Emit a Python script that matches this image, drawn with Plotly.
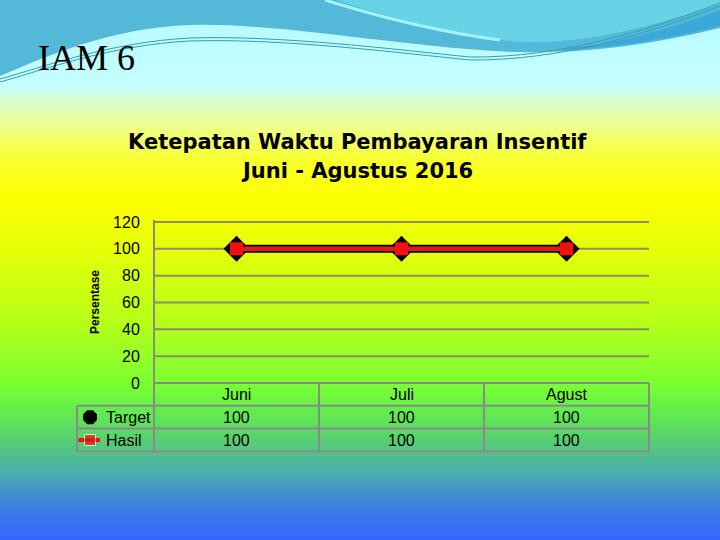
import plotly.graph_objects as go

# ── Data ───────────────────────────────────────────────
months = ["Juni", "Juli", "Agust"]
target = [100, 100, 100]
hasil = [100, 100, 100]
y_ticks = [0, 20, 40, 60, 80, 100, 120]
series_names = ["Target", "Hasil"]

W, H = 720, 540


def px_x(p):
    return p / W


def px_y(p):
    return 1 - p / H


def hex_rgb(h):
    h = h.lstrip("#")
    return tuple(int(h[i:i + 2], 16) for i in (0, 2, 4))


def mix(c1, c2, t):
    a, b = hex_rgb(c1), hex_rgb(c2)
    return "rgb({},{},{})".format(*[round(a[i] + (b[i] - a[i]) * t) for i in range(3)])


# ── Background gradient (slide style) ──────────────────
bg_stops = [(0, "#b4f8ff"), (85, "#c4ffff"), (105, "#dcffc8"), (125, "#eeff90"),
            (160, "#f8ff30"), (195, "#ffff00"), (250, "#e6ff08"), (320, "#b8ff18"),
            (385, "#7aff30"), (410, "#64ee4c"), (440, "#58d070"), (470, "#4cb0a8"),
            (500, "#4088d8"), (540, "#3366ff")]

shapes = []
step = 3
for top in range(0, H, step):
    mid = top + step / 2
    for (p0, c0), (p1, c1) in zip(bg_stops[:-1], bg_stops[1:]):
        if p0 <= mid <= p1:
            col = mix(c0, c1, (mid - p0) / (p1 - p0))
            break
    shapes.append(dict(type="rect", xref="paper", yref="paper", layer="below",
                       x0=0, x1=1, y0=px_y(top + step + 1), y1=px_y(top - 0.5),
                       fillcolor=col, line=dict(width=0)))


def wave(points):
    # points in pixels -> svg path in paper units
    out = []
    for cmd, pts in points:
        out.append(cmd + " " + " ".join(f"{px_x(x):.4f},{px_y(y):.4f}" for x, y in pts))
    return " ".join(out)


def deco(path, fill=None, line_col=None, lw=0):
    d = dict(type="path", xref="paper", yref="paper", layer="below", path=path,
             line=dict(width=lw, color=line_col or "rgba(0,0,0,0)"))
    if fill:
        d["fillcolor"] = fill
    shapes.append(d)


# top wave of the slide template
deco(wave([("M", [(0, -2)]), ("L", [(0, 76)]),
           ("C", [(50, 55), (110, 28), (190, 25)]),
           ("C", [(280, 22), (420, 50), (520, 52)]),
           ("C", [(600, 54), (670, 40), (720, 28)]),
           ("L", [(720, -2)]), ("Z", [])]), fill="#54b9d8")
deco(wave([("M", [(560, 49)]), ("C", [(620, 44), (680, 26), (720, 10)]),
           ("L", [(720, 26)]), ("C", [(680, 36), (620, 48), (560, 50)]), ("Z", [])]),
     fill="#3aa8d8")
deco(wave([("M", [(330, -2)]), ("C", [(380, 15), (450, 35), (520, 42)]),
           ("C", [(600, 44), (670, 20), (720, 4)]),
           ("L", [(720, -2)]), ("Z", [])]), fill="#66d4e6")
deco(wave([("M", [(325, 0)]), ("C", [(380, 17), (440, 32), (500, 40)])]),
     line_col="#a4f2f8", lw=3)
for off in (0, 3):
    deco(wave([("M", [(0, 79 + off)]), ("C", [(40, 68 + off), (110, 42 + off), (190, 38 + off)]),
               ("C", [(280, 35 + off), (400, 50 + off), (470, 57 + off)]),
               ("C", [(560, 58 + off), (650, 30 + off), (720, 3 + off)])]),
         line_col="#3a9cb4", lw=1)

# ── Gridlines ──────────────────────────────────────────
grid_col = "#8c8c6a"
tab_col = "#8a8a8a"
x_lo, x_hi = -0.5, len(months) - 0.5
for v in y_ticks:
    shapes.append(dict(type="line", xref="x", yref="y", layer="below",
                       x0=x_lo, x1=x_hi, y0=v, y1=v, line=dict(color=grid_col, width=2)))

# ── Data table lines ───────────────────────────────────
rows_y = [0, -17, -34, -51]
x_left = -0.5 - 77 / 165
for i, ry in enumerate(rows_y):
    shapes.append(dict(type="line", xref="x", yref="y", x0=x_lo if i == 0 else x_left,
                       x1=x_hi, y0=ry, y1=ry, line=dict(color=tab_col, width=2)))
for k in range(len(months) + 1):
    shapes.append(dict(type="line", xref="x", yref="y", x0=x_lo + k, x1=x_lo + k,
                       y0=rows_y[0], y1=rows_y[-1], line=dict(color=tab_col, width=2)))
shapes.append(dict(type="line", xref="x", yref="y", x0=x_left, x1=x_left,
                   y0=rows_y[1], y1=rows_y[-1], line=dict(color=tab_col, width=2)))

xs = list(range(len(months)))

fig = go.Figure()
fig.add_trace(go.Scatter(x=xs, y=target, name="Target", mode="lines+markers",
                         line=dict(color="black", width=8),
                         marker=dict(symbol="diamond", size=20, color="black"),
                         hoverinfo="skip", showlegend=False))
fig.add_trace(go.Scatter(x=xs, y=hasil, name="Hasil", mode="lines+markers",
                         line=dict(color="#e41818", width=4.5),
                         marker=dict(symbol="square", size=13, color="#f01010"),
                         hoverinfo="skip", showlegend=False))

# legend keys inside the table
x_key = -0.5 - 64 / 165
row_mid = [(a + b) / 2 for a, b in zip(rows_y[:-1], rows_y[1:])]
fig.add_trace(go.Scatter(x=[x_key], y=[row_mid[1]], mode="markers",
                         marker=dict(symbol="octagon", size=15, color="black"),
                         hoverinfo="skip", showlegend=False))
fig.add_trace(go.Scatter(x=[x_key - 0.07, x_key, x_key + 0.06], y=[row_mid[2]] * 3,
                         mode="lines+markers", line=dict(color="#f01010", width=4),
                         marker=dict(symbol="square", size=[0, 11, 0], color="#f01010"),
                         hoverinfo="skip", showlegend=False))

tfont = dict(family="Liberation Sans", size=16, color="black")
ann = []
for i, m in enumerate(months):
    ann.append(dict(x=i, y=row_mid[0], xref="x", yref="y", text=m, showarrow=False, font=tfont))
    ann.append(dict(x=i, y=row_mid[1], xref="x", yref="y", text=str(target[i]), showarrow=False, font=tfont))
    ann.append(dict(x=i, y=row_mid[2], xref="x", yref="y", text=str(hasil[i]), showarrow=False, font=tfont))
for j, nm in enumerate(series_names):
    ann.append(dict(x=-0.5 - 50 / 165, y=row_mid[j + 1], xref="x", yref="y", text=nm,
                    xanchor="left", showarrow=False, font=tfont))

ann.append(dict(x=px_x(36), y=px_y(58), xref="paper", yref="paper", text="IAM 6",
                xanchor="left", yanchor="middle", showarrow=False,
                font=dict(family="Liberation Serif", size=36, color="black")))
ann.append(dict(x=px_x(357), y=px_y(142), xref="paper", yref="paper",
                text="<b>Ketepatan Waktu Pembayaran Insentif</b>", showarrow=False,
                yanchor="middle", font=dict(family="DejaVu Sans", size=21, color="black")))
ann.append(dict(x=px_x(357), y=px_y(171), xref="paper", yref="paper",
                text="<b>Juni - Agustus 2016</b>", showarrow=False,
                yanchor="middle", font=dict(family="DejaVu Sans", size=21, color="black")))
ann.append(dict(x=px_x(86), y=px_y(302), xref="paper", yref="paper",
                text="<b>Persentase</b>", textangle=-90, showarrow=False, yanchor="middle",
                font=dict(family="Liberation Sans Narrow, Liberation Sans", size=12, color="black")))

unit = 161 / 120
y_rng = [-52, 121.5]
fig.update_layout(
    width=W, height=H,
    margin=dict(l=0, r=0, t=0, b=0, autoexpand=False),
    paper_bgcolor="#56b8d8",
    plot_bgcolor="rgba(0,0,0,0)",
    shapes=shapes,
    annotations=ann,
    xaxis=dict(range=[-0.98, 2.52], domain=[px_x(154 - 0.48 * 165), px_x(154 + 3.02 * 165)],
               visible=False),
    yaxis=dict(range=y_rng, domain=[px_y(383 - y_rng[0] * unit), px_y(383 - y_rng[1] * unit)],
               anchor="free", position=px_x(154), tickvals=y_ticks,
               showgrid=False, zeroline=False, showline=True, linecolor=tab_col, linewidth=2,
               ticks="outside", ticklen=10, tickcolor="rgba(0,0,0,0)",
               tickfont=dict(family="Liberation Sans", size=16, color="black")),
)

fig.write_html("out.html", config={"displayModeBar": False},
               post_script="document.body.style.margin='0px';")
